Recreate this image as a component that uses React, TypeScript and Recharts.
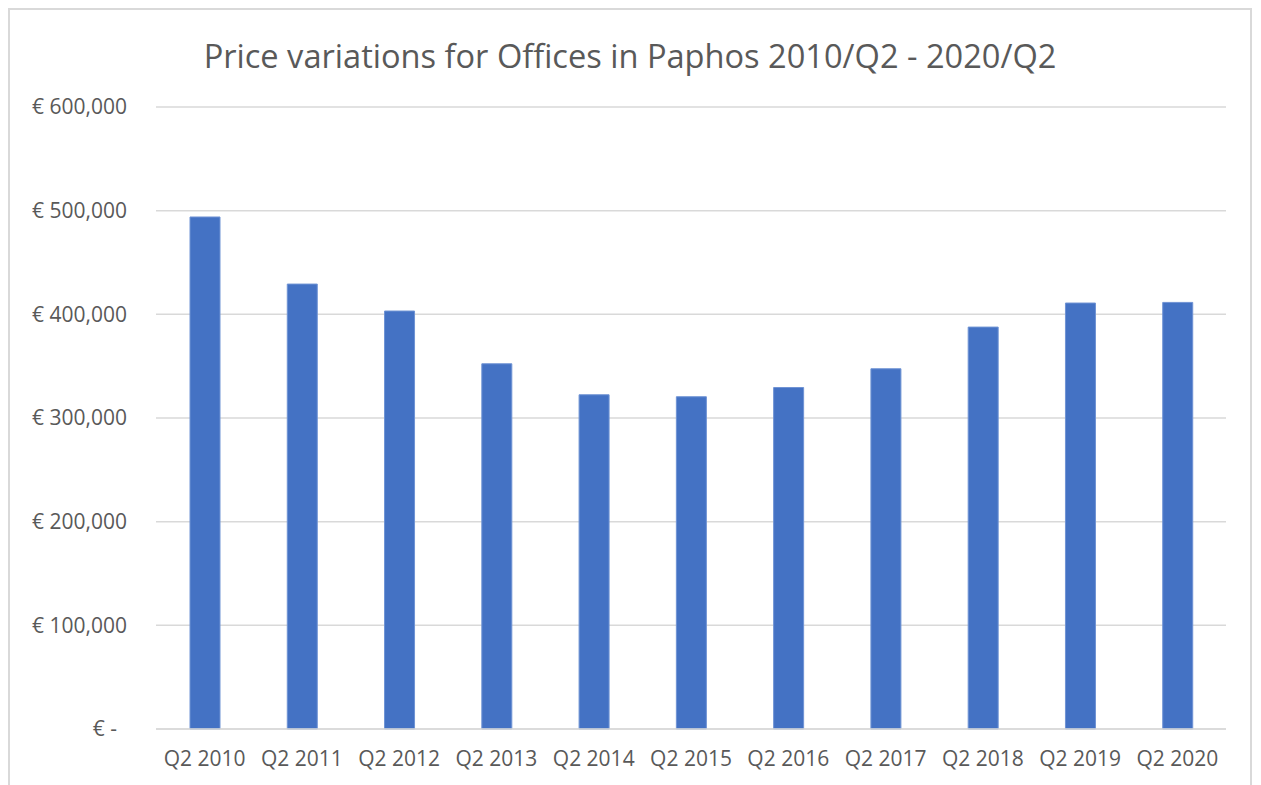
import React from "react";
import { BarChart, Bar, XAxis, YAxis, CartesianGrid } from "recharts";

const categories = ["Q2 2010", "Q2 2011", "Q2 2012", "Q2 2013", "Q2 2014", "Q2 2015", "Q2 2016", "Q2 2017", "Q2 2018", "Q2 2019", "Q2 2020"];
const prices = [493900, 429200, 403200, 352300, 322400, 320500, 329400, 347500, 387700, 410900, 411500];
const yTicks = [0, 100000, 200000, 300000, 400000, 500000, 600000];
const title = "Price variations for Offices in Paphos 2010/Q2 - 2020/Q2";

const data = categories.map((c, i) => ({ name: c, value: prices[i] }));

const FONT = "'Open Sans', sans-serif";
const TEXT = "#595959";

const fmt = (v: number) => (v === 0 ? "€ -" : "€ " + v.toLocaleString("en-US"));

const YTick = (props: any) => {
  const { x, y, payload } = props;
  const v = payload.value as number;
  return (
    <text x={x - (v === 0 ? 10 : 0)} y={y} dy="0.355em" textAnchor="end" fill={TEXT} fontSize={21} fontFamily={FONT}>
      {fmt(v)}
    </text>
  );
};

export default function App() {
  return (
    <div style={{ position: "relative", width: 1244, height: 777, borderTop: "2px solid #d9d9d9", borderLeft: "2px solid #d9d9d9", borderRight: "2px solid #d9d9d9", boxSizing: "border-box", background: "#fff" }}>
      <div style={{ position: "absolute", left: 0, right: 0, top: 24, textAlign: "center", fontFamily: FONT, fontSize: 32.6, color: TEXT, lineHeight: "44px" }}>
        {title}
      </div>
      <div style={{ position: "absolute", left: -2, top: -2 }}>
        <BarChart width={1246} height={777} data={data} margin={{ top: 99, right: 28, left: 0, bottom: 0 }} barSize={30}>
          <CartesianGrid vertical={false} stroke="#d9d9d9" strokeWidth={1.5} />
          <XAxis dataKey="name" axisLine={{ stroke: "#d9d9d9", strokeWidth: 1.5 }} tickLine={false} tickSize={0} tickMargin={22} height={56} tick={{ fill: TEXT, fontSize: 21, fontFamily: FONT }} interval={0} />
          <YAxis domain={[0, 600000]} ticks={yTicks} axisLine={false} tickLine={false} tickSize={0} tickMargin={0} width={148} tick={(p: any) => <YTick {...p} x={p.x - 29} />} />
          <Bar dataKey="value" fill="#4472C4" stroke="#6f93d4" strokeWidth={1} isAnimationActive={false} />
        </BarChart>
      </div>
    </div>
  );
}
